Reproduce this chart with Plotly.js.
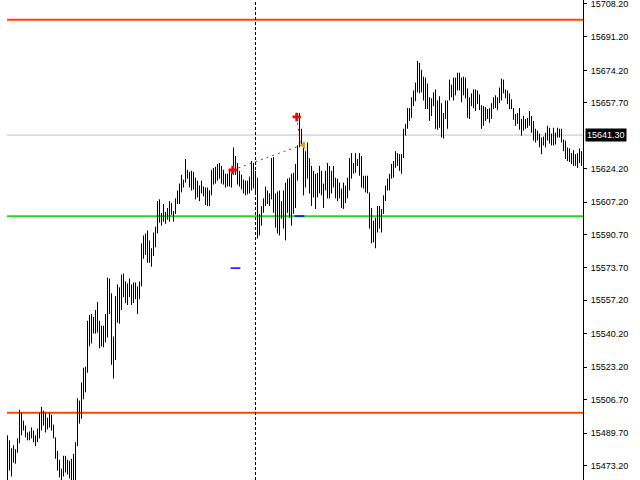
<!DOCTYPE html>
<html>
<head>
<meta charset="utf-8">
<script src="https://cdn.plot.ly/plotly-3.0.1.min.js"></script>
<style>html,body{margin:0;padding:0;background:#fff;}#chart{width:640px;height:480px;}</style>
</head>
<body>
<div id="chart"></div>
<script>
// Bar highs and lows (one bar per time step, oldest first)
const barHigh = [
15488.5,15486.0,15482.0,15483.5,15481.5,15487.0,15501.5,15500.0,15496.0,15493.5,
15490.0,15490.5,15492.5,15491.0,15488.5,15492.0,15500.0,15503.0,15501.0,15500.0,
15497.5,15500.0,15499.0,15494.0,15487.5,15480.6,15476.1,15471.6,15478.1,15478.1,
15476.1,15475.6,15476.6,15479.1,15485.0,15507.4,15506.2,15515.4,15522.9,15523.4,
15546.8,15549.8,15550.3,15548.8,15552.3,15556.3,15546.8,15544.3,15544.3,15550.3,
15568.8,15568.3,15560.8,15538.8,15559.3,15565.3,15563.8,15570.3,15570.8,15566.8,
15565.8,15568.3,15565.3,15566.3,15566.3,15564.3,15566.8,15586.2,15590.2,15591.2,
15592.7,15587.7,15583.7,15591.7,15594.7,15607.7,15608.6,15601.7,15606.2,15602.2,
15604.2,15607.7,15606.7,15602.7,15609.1,15613.1,15616.6,15621.1,15618.6,15629.1,
15623.6,15622.6,15623.1,15622.6,15619.6,15618.1,15615.6,15618.1,15615.1,15614.6,
15614.6,15613.1,15623.6,15624.6,15625.1,15626.6,15627.1,15625.6,15623.6,15621.6,
15621.6,15624.1,15622.1,15635.0,15630.6,15627.1,15623.1,15621.1,15618.6,15618.1,
15618.1,15620.1,15628.1,15627.1,15623.1,15619.6,15601.2,15605.2,15609.1,15615.1,
15613.1,15611.6,15629.6,15630.1,15611.6,15612.6,15613.1,15607.7,15613.1,15617.1,
15619.1,15619.6,15621.6,15622.1,15626.6,15636.0,15652.5,15644.5,15637.5,15633.1,
15637.5,15629.6,15625.6,15623.1,15621.6,15622.1,15625.6,15623.1,15616.6,15623.1,
15627.1,15625.6,15623.1,15625.6,15619.6,15619.1,15617.1,15614.1,15617.1,15615.6,
15619.6,15629.6,15632.1,15627.1,15632.1,15629.1,15632.1,15630.6,15620.6,15620.6,
15620.6,15612.1,15604.2,15597.7,15599.2,15605.2,15605.2,15603.7,15610.6,15615.6,
15619.1,15621.6,15626.6,15628.1,15633.1,15632.1,15631.6,15631.6,15644.5,15647.0,
15655.0,15655.0,15660.5,15664.0,15668.0,15679.0,15678.0,15674.5,15671.0,15670.5,
15667.5,15660.5,15660.0,15663.0,15664.5,15658.9,15661.0,15657.5,15652.5,15658.9,
15658.9,15669.5,15667.0,15670.5,15670.5,15673.0,15673.0,15670.5,15671.0,15670.5,
15665.0,15660.5,15662.5,15664.5,15664.5,15664.0,15662.0,15656.5,15656.0,15655.5,
15654.5,15655.0,15657.5,15660.5,15661.5,15660.5,15665.5,15670.0,15669.5,15664.5,
15664.0,15662.5,15659.5,15655.0,15652.0,15652.5,15655.0,15649.5,15651.0,15649.5,
15650.0,15653.5,15651.0,15648.5,15644.5,15643.5,15642.0,15640.0,15640.5,15642.5,
15646.0,15645.0,15642.0,15645.0,15642.5,15645.0,15644.5,15644.5,15639.0,15638.5,
15635.0,15634.5,15632.1,15633.6,15631.6,15632.1,15634.5,15633.1
];
const barLow = [
15464.6,15470.6,15467.6,15474.6,15474.1,15479.6,15484.5,15488.5,15491.0,15487.5,
15486.0,15486.0,15487.0,15485.0,15483.0,15485.0,15487.0,15491.0,15493.5,15490.0,
15491.5,15492.5,15491.0,15487.0,15476.6,15470.6,15467.1,15464.6,15467.6,15469.6,
15468.6,15466.6,15464.6,15464.6,15464.6,15483.0,15494.5,15497.0,15506.9,15510.4,
15520.4,15533.8,15535.3,15540.3,15540.3,15540.8,15532.8,15533.8,15533.3,15535.8,
15538.3,15550.3,15524.4,15517.4,15526.9,15545.8,15545.3,15552.3,15558.8,15555.8,
15554.8,15558.8,15554.8,15555.8,15557.8,15550.3,15557.8,15564.3,15578.3,15580.3,
15576.3,15576.3,15574.3,15579.8,15584.2,15591.2,15596.7,15595.2,15597.2,15596.2,
15598.2,15597.2,15600.7,15597.2,15601.2,15606.2,15606.2,15612.1,15614.6,15617.1,
15619.1,15614.6,15613.1,15613.6,15608.6,15609.6,15607.7,15611.6,15610.1,15605.7,
15605.2,15605.2,15610.6,15616.1,15616.6,15618.1,15619.1,15616.6,15616.1,15614.6,
15615.1,15615.1,15614.6,15621.1,15621.1,15616.1,15615.1,15613.6,15611.6,15610.6,
15611.1,15611.6,15613.1,15614.1,15612.1,15588.7,15590.2,15595.2,15601.7,15605.2,
15606.2,15605.2,15608.6,15601.7,15594.2,15591.2,15590.2,15598.7,15593.7,15587.7,
15601.7,15599.2,15595.2,15601.2,15604.2,15618.1,15635.0,15636.0,15610.6,15614.6,
15619.1,15611.6,15605.2,15609.6,15603.7,15609.6,15611.6,15610.6,15604.2,15613.1,
15609.1,15609.1,15611.6,15614.6,15609.1,15607.7,15609.1,15604.2,15603.7,15606.7,
15609.1,15613.1,15619.1,15621.6,15622.1,15625.6,15620.6,15614.6,15614.1,15612.1,
15611.6,15593.7,15586.2,15586.7,15583.7,15591.7,15593.7,15591.7,15601.2,15607.7,
15613.1,15613.1,15619.1,15619.6,15624.6,15625.6,15623.1,15621.6,15629.6,15641.0,
15644.5,15648.5,15650.0,15656.0,15658.5,15663.0,15662.5,15663.0,15658.9,15654.5,
15654.5,15648.5,15651.0,15656.0,15644.5,15644.0,15645.0,15640.0,15639.5,15649.5,
15644.5,15658.9,15660.5,15658.9,15661.5,15664.0,15664.0,15658.0,15661.5,15660.0,
15650.0,15649.5,15656.0,15655.0,15653.5,15657.0,15654.0,15644.5,15646.0,15648.5,
15649.5,15647.5,15649.5,15654.5,15655.0,15654.0,15657.5,15658.9,15662.5,15660.0,
15657.0,15654.5,15654.5,15649.0,15646.0,15647.0,15644.0,15641.0,15643.5,15644.5,
15645.0,15646.0,15642.5,15638.5,15637.5,15638.5,15635.0,15631.6,15636.0,15635.0,
15638.5,15637.0,15636.0,15636.0,15636.5,15640.0,15640.0,15637.5,15633.1,15629.1,
15628.1,15627.6,15626.6,15625.6,15625.6,15624.6,15627.1,15625.6
];

// Horizontal levels
const levelUpper = 15700.0;
const levelMiddle = 15600.0;
const levelLower = 15500.0;
const currentPrice = 15641.3;
const currentPriceText = "15641.30";

// Vertical separator (bar index)
const separatorBar = 124;

// Trade marks
const crossX = [112.6, 144.6];
const crossY = [15623.5, 15650.5];
const closeX = [147.9];
const closeY = [15636.1];
const linkX = [112.6, 146.8, null, 144.6, 146.5];
const linkY = [15623.5, 15636.1, null, 15650.5, 15636.1];
const stopX = [114, 146];
const stopY = [15573.6, 15600.1];

// Price-axis ticks
const tickValues = [15708.2,15691.2,15674.2,15657.7,15624.2,15607.2,15590.7,15573.7,15557.2,15540.2,15523.2,15506.7,15489.7,15473.2];
const tickLabels = ["15708.20","15691.20","15674.20","15657.70","15624.20","15607.20","15590.70","15573.70","15557.20","15540.20","15523.20","15506.70","15489.70","15473.20"];

// Build vertical bar segments
const segX = [], segY = [];
for (let i = 0; i < barHigh.length; i++) {
  segX.push(i, i, null);
  segY.push(barLow[i], barHigh[i], null);
}
const nBars = barHigh.length;

const traces = [
  {type:'scatter', mode:'lines', x:segX, y:segY, line:{color:'#000000', width:1}, hoverinfo:'skip', connectgaps:false},
  {type:'scatter', mode:'lines', x:linkX, y:linkY, line:{color:'#ff0000', width:1, dash:'2px,4px'}, hoverinfo:'skip'},
  {type:'scatter', mode:'markers', x:stopX, y:stopY, marker:{symbol:'line-ew', size:7, line:{color:'#0000ff', width:1.5}}, hoverinfo:'skip'},
  {type:'scatter', mode:'markers', x:crossX, y:crossY, marker:{symbol:'cross', size:7, color:'#ff0000', line:{width:0}}, hoverinfo:'skip'},
  {type:'scatter', mode:'markers', x:closeX, y:closeY, marker:{symbol:'triangle-left', size:7, color:'#daa520', line:{width:0}}, hoverinfo:'skip'}
];

const hline = (v, color, w) => ({type:'line', xref:'paper', x0:0, x1:1, yref:'y', y0:v, y1:v, line:{color:color, width:w}, layer:'below'});

const layout = {
  width:640, height:480,
  margin:{l:7, r:57, t:0, b:0, pad:0},
  paper_bgcolor:'#ffffff', plot_bgcolor:'#ffffff',
  showlegend:false,
  xaxis:{range:[-0.25, nBars - 0.25], visible:false, fixedrange:true},
  yaxis:{
    range:[15465.8, 15710.0], side:'right', showgrid:false, zeroline:false,
    showline:true, linecolor:'#000000', linewidth:1, mirror:false,
    ticks:'outside', ticklen:3, tickwidth:1, tickcolor:'#000000',
    tickvals:tickValues, ticktext:tickLabels,
    tickfont:{family:'Liberation Sans, Arial, sans-serif', size:9, color:'#000000'},
    ticklabelstandoff:2, ticklabeloverflow:'allow', fixedrange:true
  },
  shapes:[
    hline(currentPrice, '#c0c0c0', 1),
    hline(levelUpper, '#ff4500', 2),
    hline(levelMiddle, '#32cd32', 2),
    hline(levelLower, '#ff4500', 2),
    {type:'line', xref:'x', x0:separatorBar, x1:separatorBar, yref:'paper', y0:0, y1:1, line:{color:'#000000', width:1, dash:'3px,2px'}, layer:'above'}
  ],
  annotations:[
    {xref:'paper', x:1, xanchor:'left', xshift:2, yref:'y', y:currentPrice, yanchor:'middle',
     text:currentPriceText, showarrow:false, bgcolor:'#000000', borderpad:1,
     font:{family:'Liberation Sans, Arial, sans-serif', size:9, color:'#ffffff'}}
  ]
};

Plotly.newPlot('chart', traces, layout, {staticPlot:true, displayModeBar:false});
</script>
</body>
</html>
